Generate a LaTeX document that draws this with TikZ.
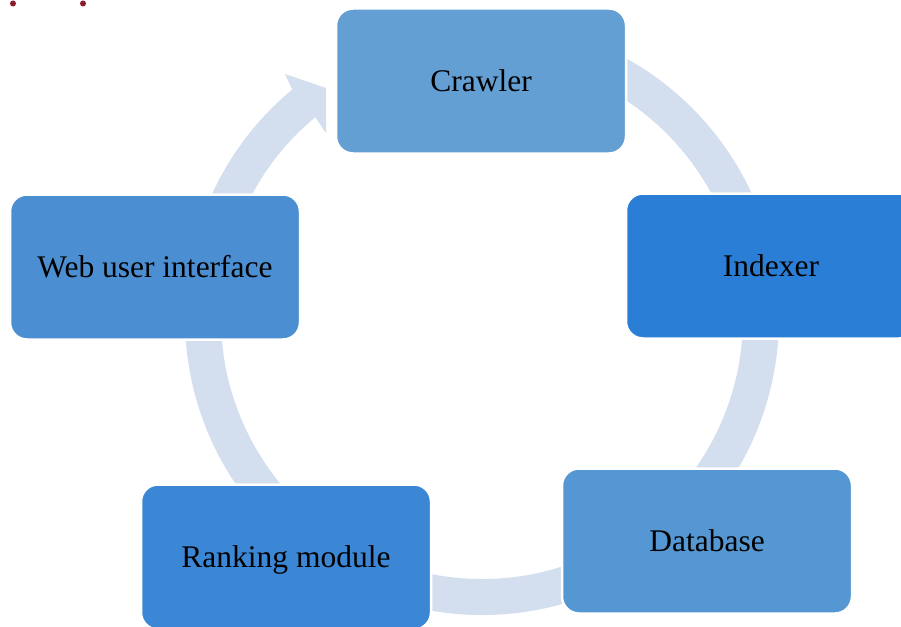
\documentclass[tikz,border=0pt]{standalone}
\usepackage{fontspec}
\setmainfont{Liberation Serif}
\usetikzlibrary{calc}
\definecolor{ringc}{HTML}{D3DFEE}
\definecolor{cCrawler}{HTML}{639FD3}
\definecolor{cIndexer}{HTML}{2A7ED6}
\definecolor{cDatabase}{HTML}{5497D3}
\definecolor{cRanking}{HTML}{3B87D5}
\definecolor{cWeb}{HTML}{4B8FD2}
\definecolor{dotc}{HTML}{8E1B2E}
\tikzset{
  stagebox/.style={draw=white, line width=2.5pt, rounded corners=17pt,
    minimum width=290pt, minimum height=145pt, inner sep=0pt, outer sep=0pt,
    font=\fontsize{31.5}{36}\selectfont, text=black},
  stagetext/.style={inner sep=0pt, font=\fontsize{31.5}{36}\selectfont, text=black},
  ringline/.style={draw=ringc, line width=36pt},
}
\begin{document}
\begin{tikzpicture}[x=1pt,y=-1pt]
\useasboundingbox (0,0) rectangle (901,626);
\clip (0,0) rectangle (901,626);
\fill[white] (0,0) rectangle (901,626);
% artefact dots
\fill[dotc] (13,3.5) circle (3);
\fill[dotc] (83,3.5) circle (3);
% ring
\coordinate (c) at (482,318);
\draw[ringline] ($(c)+(231:279)$) arc[start angle=231, end angle=-90, radius=279];
\fill[ringc] ($(c)+(230.3:297)$) -- (285,74) -- (326,88) -- (326,133) -- ($(c)+(230.3:261)$) -- cycle;
% boxes
\node[stagebox, fill=cCrawler]  (crawler)  at (481,81)  {Crawler};
\node[stagebox, fill=cIndexer]  (indexer)  at (771,266) {Indexer};
\node[stagebox, fill=cDatabase] (database) at (707,541) {Database};
\node[stagebox, fill=cRanking]  (ranking)  at (286,557) {};
\node[stagetext] (rankingtext) at ([yshift=-3pt]ranking.center) {Ranking module};
\node[stagebox, fill=cWeb]      (web)      at (155,267) {Web user interface};
\end{tikzpicture}
\end{document}
